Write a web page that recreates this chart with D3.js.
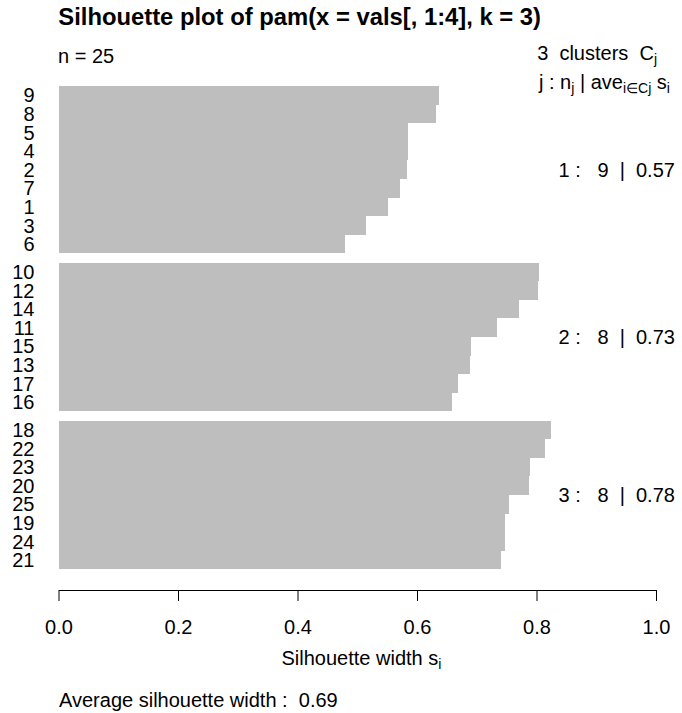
<!DOCTYPE html>
<html>
<head>
<meta charset="utf-8">
<script src="https://cdn.jsdelivr.net/npm/d3@7"></script>
<style>
  html, body { margin: 0; padding: 0; background: #fff; }
  text { font-family: "Liberation Sans", Arial, Helvetica, sans-serif; fill: #000; }
</style>
</head>
<body>
<svg id="chart" width="682" height="713"></svg>
<script>
// ---- data ----
const clusterIds = [1, 2, 3];
const cluster1Labels = ["9", "8", "5", "4", "2", "7", "1", "3", "6"];
const cluster1Values = [0.636, 0.631, 0.585, 0.585, 0.583, 0.571, 0.552, 0.515, 0.480];
const cluster2Labels = ["10", "12", "14", "11", "15", "13", "17", "16"];
const cluster2Values = [0.804, 0.803, 0.770, 0.734, 0.691, 0.688, 0.668, 0.658];
const cluster3Labels = ["18", "22", "23", "20", "25", "19", "24", "21"];
const cluster3Values = [0.825, 0.814, 0.789, 0.787, 0.754, 0.748, 0.748, 0.740];
const clusterSizes = [9, 8, 8];
const clusterAvgs = ["0.57", "0.73", "0.78"];
const xTicks = [0.0, 0.2, 0.4, 0.6, 0.8, 1.0];
const nObs = 25;
const overallAvg = "0.69";
const titleText = "Silhouette plot of pam(x = vals[, 1:4], k = 3)";

// ---- build rows ----
const allLabels = [cluster1Labels, cluster2Labels, cluster3Labels];
const allValues = [cluster1Values, cluster2Values, cluster3Values];
const rows = [];
const clusterCenters = [];
let slot = 0;
allLabels.forEach((labs, ci) => {
  if (ci > 0) slot += 0.5;
  const start = slot;
  labs.forEach((lab, i) => {
    rows.push({ label: lab, value: allValues[ci][i], slot: slot, cluster: ci });
    slot += 1;
  });
  clusterCenters.push((start + slot) / 2);
});
const totalSlots = slot;

const svg = d3.select("#chart");
const x = d3.scaleLinear().domain([0, 1]).range([58.5, 656]);
const y = d3.scaleLinear().domain([0, totalSlots]).range([86, 569.3]);

// bars
svg.append("g")
  .attr("shape-rendering", "crispEdges")
  .selectAll("rect")
  .data(rows)
  .join("rect")
  .attr("x", x(0))
  .attr("y", d => y(d.slot))
  .attr("width", d => x(d.value) - x(0))
  .attr("height", d => y(d.slot + 1) - y(d.slot))
  .attr("fill", "#bebebe");

// row labels
svg.append("g")
  .selectAll("text")
  .data(rows)
  .join("text")
  .attr("x", 34.5)
  .attr("y", d => (y(d.slot) + y(d.slot + 1)) / 2)
  .attr("dy", "0.36em")
  .attr("text-anchor", "end")
  .attr("font-size", 20)
  .text(d => d.label);

// x axis
const axis = d3.axisBottom(x)
  .tickValues(xTicks)
  .tickFormat(d3.format(".1f"))
  .tickSize(11)
  .tickSizeOuter(0)
  .tickPadding(19);
const ax = svg.append("g").attr("transform", "translate(0,590)").call(axis);
ax.select(".domain").attr("stroke", "#000");
ax.selectAll(".tick line").attr("stroke", "#000");
ax.selectAll(".tick text")
  .attr("font-size", 20)
  .attr("font-family", '"Liberation Sans", Arial, sans-serif')
  .attr("fill", "#000");

// title
svg.append("text")
  .attr("x", 58.3).attr("y", 25)
  .attr("font-size", 23.8).attr("font-weight", "bold")
  .text(titleText);

// n = 25
svg.append("text")
  .attr("x", 58).attr("y", 62.5)
  .attr("font-size", 20)
  .text("n = " + nObs);

// legend line 1: "3  clusters  C_j"
const l1 = svg.append("text")
  .attr("x", 657).attr("y", 59.5)
  .attr("text-anchor", "end")
  .attr("font-size", 20)
  .style("white-space", "pre");
l1.append("tspan").text(clusterIds.length + "  clusters  C");
l1.append("tspan").attr("font-size", 14).attr("dy", 4).text("j");

// legend line 2: "j : n_j | ave_{i∈Cj} s_i"
const l2 = svg.append("text")
  .attr("x", 539).attr("y", 88.5)
  .attr("font-size", 20)
  .style("white-space", "pre");
l2.append("tspan").text("j : n");
l2.append("tspan").attr("font-size", 14).attr("dy", 4).text("j");
l2.append("tspan").attr("dy", -4).text(" | ave");
l2.append("tspan").attr("font-size", 14).attr("dy", 4).text("i\u2208Cj");
l2.append("tspan").attr("dy", -4).text(" s");
l2.append("tspan").attr("font-size", 14).attr("dy", 4).text("i");

// cluster summary texts
svg.append("g")
  .selectAll("text")
  .data(clusterIds)
  .join("text")
  .attr("x", 558.5)
  .attr("y", (d, i) => y(clusterCenters[i]))
  .attr("dy", "0.36em")
  .attr("font-size", 20)
  .style("white-space", "pre")
  .text((d, i) => d + " :   " + clusterSizes[i] + "  |  " + clusterAvgs[i]);

// x label
const xl = svg.append("text")
  .attr("x", 281.5).attr("y", 665)
  .attr("font-size", 20)
  .style("white-space", "pre");
xl.append("tspan").text("Silhouette width s");
xl.append("tspan").attr("font-size", 14).attr("dy", 4).text("i");

// subtitle
svg.append("text")
  .attr("x", 59).attr("y", 706.5)
  .attr("font-size", 20)
  .style("white-space", "pre")
  .text("Average silhouette width :  " + overallAvg);
</script>
</body>
</html>
